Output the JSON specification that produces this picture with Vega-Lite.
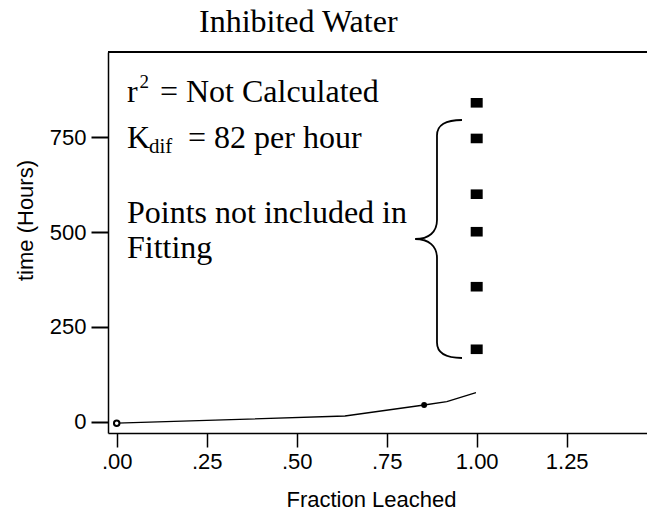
{
  "$schema": "https://vega.github.io/schema/vega-lite/v6.json",
  "autosize": "none",
  "padding": {"left": 108, "top": 52, "right": 0, "bottom": 80},
  "width": 539,
  "height": 381,
  "background": "white",
  "config": {
    "view": {"stroke": null},
    "axis": {
      "domainColor": "black", "domainWidth": 1.5, "tickColor": "black", "tickWidth": 1.5,
      "labelColor": "black", "labelFont": "Liberation Sans", "labelFontSize": 22,
      "titleColor": "black", "titleFont": "Liberation Sans", "titleFontSize": 22, "titleFontWeight": "normal",
      "grid": false
    },
    "text": {"font": "Liberation Serif", "fontWeight": 400, "color": "black", "align": "left", "baseline": "alphabetic"}
  },
  "title": {
    "text": "Inhibited Water", "font": "Liberation Serif", "fontSize": 32, "fontWeight": 400,
    "color": "black", "anchor": "start", "frame": "group", "dx": 91, "offset": 12
  },
  "datasets": {
    "pts": [
      {"x": 0, "y": -4, "kind": "line"},
      {"x": 0.634, "y": 15, "kind": "line"},
      {"x": 0.854, "y": 44, "kind": "line"},
      {"x": 0.917, "y": 53, "kind": "line"},
      {"x": 0.998, "y": 76.5, "kind": "line"},
      {"x": 0, "y": -4, "kind": "open"},
      {"x": 0.854, "y": 44, "kind": "dot"},
      {"x": 1.0, "y": 841, "kind": "excluded"},
      {"x": 1.0, "y": 747, "kind": "excluded"},
      {"x": 1.0, "y": 600, "kind": "excluded"},
      {"x": 1.0, "y": 501, "kind": "excluded"},
      {"x": 1.0, "y": 356, "kind": "excluded"},
      {"x": 1.0, "y": 191, "kind": "excluded"}
    ]
  },
  "data": {"name": "pts"},
  "encoding": {
    "x": {
      "field": "x", "type": "quantitative",
      "scale": {"domain": [-0.0242, 1.4731], "nice": false, "zero": false},
      "axis": {
        "values": [0, 0.25, 0.5, 0.75, 1, 1.25],
        "labelExpr": "datum.value < 1 ? substring(format(datum.value, '.2f'), 1) : format(datum.value, '.2f')",
        "tickSize": 14, "labelPadding": 4,
        "title": "Fraction Leached", "titleX": 263, "titleY": 73, "titleBaseline": "alphabetic", "titleAlign": "center"
      }
    },
    "y": {
      "field": "y", "type": "quantitative",
      "scale": {"domain": [-29.8, 975], "nice": false, "zero": false},
      "axis": {
        "values": [0, 250, 500, 750], "tickSize": 17, "tickWidth": 2, "labelPadding": 5,
        "title": "time (Hours)", "titleX": -83, "titleY": 168, "titleBaseline": "middle", "titleAlign": "center", "titleAngle": -90
      }
    }
  },
  "layer": [
    {
      "transform": [{"filter": "datum.kind == 'dot'"}],
      "mark": {"type": "rule", "color": "black", "strokeWidth": 2},
      "encoding": {"x": null, "y": {"datum": 975, "type": "quantitative"}}
    },
    {
      "transform": [{"filter": "datum.kind == 'line'"}],
      "mark": {"type": "line", "color": "black", "strokeWidth": 1.3}
    },
    {
      "transform": [{"filter": "datum.kind == 'open'"}],
      "mark": {"type": "point", "shape": "circle", "filled": false, "stroke": "black", "fill": "white", "fillOpacity": 1, "strokeWidth": 2, "size": 30, "opacity": 1}
    },
    {
      "transform": [{"filter": "datum.kind == 'dot'"}],
      "mark": {"type": "point", "shape": "circle", "filled": true, "color": "black", "size": 35, "opacity": 1}
    },
    {
      "transform": [{"filter": "datum.kind == 'excluded'"}],
      "mark": {"type": "point", "shape": "M -1 -0.8 H 1 V 0.8 H -1 Z", "filled": true, "color": "black", "size": 144, "opacity": 1}
    },
    {
      "transform": [{"filter": "datum.kind == 'dot'"}],
      "mark": {"type": "point", "shape": "M 0.197 -1 C 0.06 -1 -0.013 -0.96 -0.013 -0.87 L -0.013 -0.16 C -0.013 -0.06 -0.08 0 -0.197 0 C -0.08 0 -0.013 0.06 -0.013 0.16 L -0.013 0.87 C -0.013 0.96 0.06 1 0.197 1", "filled": false, "stroke": "black", "strokeWidth": 1.8, "size": 56644, "opacity": 1},
      "encoding": {"x": {"datum": 0.894, "type": "quantitative"}, "y": {"datum": 481.8, "type": "quantitative"}}
    },
    {
      "transform": [{"filter": "datum.kind == 'dot'"}],
      "mark": {"type": "text", "text": "r", "fontSize": 32},
      "encoding": {"x": {"datum": 0.0286, "type": "quantitative"}, "y": {"datum": 844, "type": "quantitative"}}
    },
    {
      "transform": [{"filter": "datum.kind == 'dot'"}],
      "mark": {"type": "text", "text": "2", "fontSize": 19},
      "encoding": {"x": {"datum": 0.063, "type": "quantitative"}, "y": {"datum": 880, "type": "quantitative"}}
    },
    {
      "transform": [{"filter": "datum.kind == 'dot'"}],
      "mark": {"type": "text", "text": "= Not Calculated", "fontSize": 32},
      "encoding": {"x": {"datum": 0.12, "type": "quantitative"}, "y": {"datum": 844, "type": "quantitative"}}
    },
    {
      "transform": [{"filter": "datum.kind == 'dot'"}],
      "mark": {"type": "text", "text": "K", "fontSize": 32},
      "encoding": {"x": {"datum": 0.0286, "type": "quantitative"}, "y": {"datum": 722, "type": "quantitative"}}
    },
    {
      "transform": [{"filter": "datum.kind == 'dot'"}],
      "mark": {"type": "text", "text": "dif", "fontSize": 21},
      "encoding": {"x": {"datum": 0.0897, "type": "quantitative"}, "y": {"datum": 708.6, "type": "quantitative"}}
    },
    {
      "transform": [{"filter": "datum.kind == 'dot'"}],
      "mark": {"type": "text", "text": "= 82 per hour", "fontSize": 32},
      "encoding": {"x": {"datum": 0.198, "type": "quantitative"}, "y": {"datum": 722, "type": "quantitative"}}
    },
    {
      "transform": [{"filter": "datum.kind == 'dot'"}],
      "mark": {"type": "text", "text": "Points not included in", "fontSize": 32},
      "encoding": {"x": {"datum": 0.0286, "type": "quantitative"}, "y": {"datum": 525.3, "type": "quantitative"}}
    },
    {
      "transform": [{"filter": "datum.kind == 'dot'"}],
      "mark": {"type": "text", "text": "Fitting", "fontSize": 32},
      "encoding": {"x": {"datum": 0.0286, "type": "quantitative"}, "y": {"datum": 431.7, "type": "quantitative"}}
    }
  ]
}
